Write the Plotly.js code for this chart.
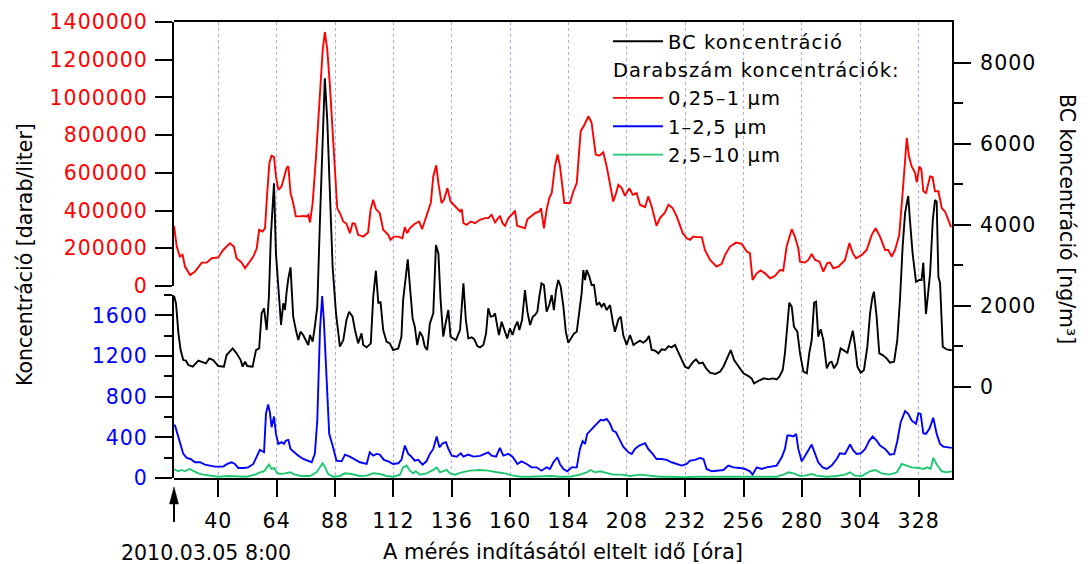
<!DOCTYPE html>
<html>
<head>
<meta charset="utf-8">
<script src="https://cdn.plot.ly/plotly-3.0.1.min.js"></script>
<style>
html,body{margin:0;padding:0;background:#ffffff;}
#chart{width:1088px;height:564px;}
.legendtext{letter-spacing:1.1px;}
.xtick text, .ytick text, .y2tick text, .y3tick text{letter-spacing:1px;}
</style>
</head>
<body>
<div id="chart"></div>
<script>
// ---------- tick labels / axis values ----------
const xTickVals = [40, 64, 88, 112, 136, 160, 184, 208, 232, 256, 280, 304, 328];
const redTickVals = [0, 200000, 400000, 600000, 800000, 1000000, 1200000, 1400000];
const blueTickVals = [0, 400, 800, 1200, 1600];
const blueMinorVals = [200, 600, 1000, 1400, 1800];
const bcTickVals = [0, 2000, 4000, 6000, 8000];
const bcMinorVals = [1000, 3000, 5000, 7000];

// ---------- series: BC (black, right axis, ng/m3) ----------
const bcHours = [21.8,22.6,23.6,24.5,25.6,26.7,27.7,29.5,31.8,33.8,
 34.9,36.3,37.9,40,42.3,43.4,44.8,45.9,47.5,49.2,
 50,51,51.9,54.1,55.5,56.8,57.8,58.8,59.9,60.8,
 61.6,62.9,63.7,64.7,65.8,66.7,67.4,68.1,68.8,69.7,
 70.8,71.9,72.9,73.8,74.9,76.3,77,77.7,78.8,79.7,
 80.7,81.8,82.9,83.8,84.8,85.9,87,88.4,90,91.4,
 92.7,93.8,95.2,96.2,97.5,98.9,99.6,101,102.7,103.7,
 104.8,105.8,106.7,107.8,109.2,110.5,111.9,114,115.3,116,
 117.1,117.9,118.8,119.9,120.8,121.8,122.9,124,124.9,125.9,
 127,128.4,129.5,130.5,131.4,132.5,133.6,134.6,135.5,136.6,
 137.7,139.4,140.8,141.8,142.8,144.2,145.3,146.5,147.6,149,
 150.1,151,152,153.1,153.8,154.5,155.4,156.5,157.5,158.8,
 159.9,161,162,163,163.8,164.9,166.1,167.1,168.2,169.3,
 170.2,171.2,172,172.9,173.9,175,176.1,177.1,178,178.9,
 179.8,180.8,181.9,182.9,183.9,185.3,186.3,187.4,188.4,189.4,
 190.1,190.8,191.5,192.6,193.5,194.5,195.6,196.7,197.6,198.6,
 199.7,201.1,202.2,203.1,204.5,205.5,206.5,207.9,209.3,210.7,
 212,213.4,214.8,216.1,217.1,218.2,219.6,221,222.3,223.7,
 225.1,226.4,227.8,229.2,230.5,231.9,233.3,235.3,236.4,237.8,
 239.2,240.6,242.2,244.3,246.3,247.7,249.1,250.7,252.1,253.9,
 255.9,258,259.3,260.3,261.4,262.8,264.4,266.2,268,269.6,
 270.7,272.1,273,274,274.8,275.8,276.7,278.1,279.2,280.6,
 282,283,284,285,285.8,286.7,287.7,288.8,290.2,291.3,
 292.2,293.2,294.5,295.9,297.3,298.7,299.8,300.9,301.8,302.8,
 304.2,305.5,306.9,308,309,309.6,310.7,311.8,313.2,314.8,
 316.2,317.9,319.2,320.3,321.4,322.4,323.1,323.7,324.4,325.5,
 326.9,328.3,329.2,329.9,331,332,332.7,333.8,334.7,335.4,
 336.1,336.8,337.9,339.5,341.6];
const bcValues = [2239,2058,1317,905,658,642,535,494,642,593,
 576,700,658,510,494,782,864,946,823,658,
 494,617,510,494,905,946,1811,1934,1399,2222,
 3704,5020,3292,2469,1523,2058,1893,2346,2675,2946,
 1728,1399,1152,1358,1276,1111,1029,1276,1111,1481,
 1975,4115,5926,7613,6584,4773,2963,1811,988,1152,
 1646,1852,1728,1399,1070,1317,1029,971,1070,2222,
 2864,2058,2099,1399,1111,1070,905,946,1235,2140,
 2798,3144,2469,1687,1481,1029,1358,1235,988,905,
 1564,1811,3498,3292,2140,1235,1605,1893,1235,1193,
 1152,1399,2551,1646,1193,1218,1169,1004,971,1029,
 1317,1934,1728,1745,1811,1564,1276,1605,1399,1193,
 1440,1276,1481,1605,1399,1646,2387,1852,1523,1728,
 1770,1852,2222,2551,2510,1852,2016,2263,1893,2387,
 2634,2469,1975,1358,1086,1235,1317,1358,1811,2304,
 2881,2634,2881,2716,2510,2510,2016,2074,1975,2058,
 1893,2016,1605,1358,1662,1728,1276,1029,1276,1029,
 1086,1136,1086,1152,1251,905,889,823,922,905,
 1004,971,1029,864,675,494,453,617,675,576,
 593,453,346,313,370,494,700,905,658,494,
 329,263,206,82,123,165,206,181,206,181,
 247,412,823,1646,2074,1975,1481,1358,823,370,
 329,823,1152,2074,2099,1235,1416,1152,453,593,
 617,453,576,946,889,839,1111,1383,1029,494,
 346,412,988,1811,2222,2346,1728,823,782,700,
 593,617,1152,2140,3457,4280,4527,4708,4115,3292,
 2592,2634,2634,3062,1794,2304,2798,4115,4609,4568,
 2716,2551,988,920,900];

// ---------- series: 0,25–1 µm (red, upper left axis, darab/liter) ----------
const redHours = [21.8,22.9,24.2,25.3,26.3,28.4,30.4,33.2,35.2,37.3,
 40,42,44.8,46.4,47.5,49.6,51,53,54.4,55.8,
 56.8,58.2,59.2,60.1,61,61.9,62.9,63.7,64.7,66,
 67.1,68.1,68.8,69.7,70.8,71.9,73.6,74.9,76.3,77,
 77.7,78.8,80.1,81.5,82.9,83.8,84.8,85.9,87,87.9,
 88.9,90,91.4,92.7,94.1,95.2,96.2,97.5,99.6,101.6,
 102.6,103.7,104.8,106.4,107.8,109.9,110.8,112.2,114,115.7,
 116.7,117.7,118.8,120.8,122.6,123.8,125.6,127.4,128.4,129.6,
 130.5,131.8,132.8,134.2,135.5,137.3,139.4,140.1,140.8,142.1,
 143.8,145.5,147.6,149.7,151,152.4,153.8,155.8,156.9,157.9,
 159.3,161,162,162.9,164.7,166.1,167.1,168.8,170.2,172,
 172.7,173.9,175,176.1,177.1,178.4,179.5,180.5,181.6,182.3,
 184.6,186,187.4,189,190.4,192.2,193.5,195.2,196.7,198.3,
 199.7,201.1,202.4,203.5,204.5,205.9,207.2,209,210.4,212,
 213.4,215.5,216.8,218.2,220.2,221.6,223.7,225.1,226.8,228.5,
 231,232.6,234,235.3,236.7,238.8,240.1,242.2,244.9,247,
 248.4,250.4,252.9,255.2,257.3,258.6,259.7,261.4,263,264.8,
 266.9,268.9,271,272.3,273.7,275.8,277.1,278.5,279.2,281.3,
 282.6,284,285.4,287.2,288.8,290.4,291.5,292.9,295,297.7,
 299.5,300.9,302.2,304.6,306.6,308.7,310.3,312.1,314.2,315.5,
 316.9,318.3,320,321.4,322.4,323.1,324,325.1,326.5,327.2,
 328.3,329.1,329.9,331,332.7,333.7,334.7,336.1,337.5,338.8,
 340.2,341.3];
const redValues = [319000,209000,156000,165000,103000,58000,76000,124000,124000,147000,
 152000,191000,227000,209000,147000,124000,94000,129000,156000,200000,
 298000,289000,306000,493000,652000,691000,684000,581000,510000,528000,
 581000,626000,635000,493000,440000,369000,369000,372000,369000,377000,
 337000,440000,670000,971000,1246000,1347000,1255000,1060000,829000,599000,
 413000,386000,342000,330000,280000,333000,330000,271000,262000,284000,
 404000,457000,408000,386000,298000,271000,245000,262000,262000,253000,
 312000,280000,307000,330000,342000,301000,377000,443000,581000,640000,
 546000,440000,457000,519000,448000,422000,395000,408000,333000,324000,
 342000,333000,351000,360000,360000,377000,337000,372000,333000,319000,
 360000,383000,400000,319000,312000,306000,354000,369000,386000,395000,
 413000,306000,404000,466000,493000,634000,697000,634000,493000,440000,
 440000,501000,546000,821000,851000,900000,865000,697000,691000,709000,
 634000,528000,448000,489000,537000,519000,478000,519000,484000,493000,
 431000,418000,475000,422000,319000,360000,390000,431000,413000,369000,
 280000,253000,245000,262000,259000,259000,191000,138000,103000,117000,
 165000,209000,230000,223000,183000,174000,32000,67000,82000,67000,
 41000,53000,85000,82000,209000,301000,262000,200000,129000,124000,
 138000,170000,138000,129000,76000,121000,124000,94000,103000,138000,
 227000,174000,147000,165000,191000,271000,306000,262000,191000,191000,
 156000,191000,271000,493000,679000,785000,688000,634000,602000,549000,
 634000,617000,502000,493000,581000,578000,502000,502000,413000,395000,
 351000,312000];

// ---------- series: 1–2,5 µm (blue, lower left axis) ----------
const blueHours = [21.8,22.2,23.2,24.2,25.6,27,28.6,30.4,32.5,34.5,36.6,
 38.6,40.7,42,43.7,45.5,46.8,48.2,50.3,52.3,54.4,
 56,57.1,58.8,59.6,60.5,61.2,61.9,62.9,63.7,64.7,
 66,67,67.8,68.8,69.7,71.1,72.9,74.9,77,78.4,
 79.7,80.7,81.8,82.7,83.4,84.5,85.6,87,88.6,90.7,
 92.1,94.1,96.2,98.2,101,102.3,103.7,105.1,106.4,108.1,
 109.9,111.9,114,115.3,116.7,118.1,119,120.8,122.2,124,
 125.6,127,128.4,129.8,130.9,132.3,133.6,134.6,136,138,
 139.7,140.8,142.8,144.9,147.6,149.7,151,152.4,154.2,155.8,
 157.2,159.3,161,163,164.7,166.8,168.8,170.9,172.9,175,
 176.4,177.8,179.4,180.5,181.9,183.5,185.3,187.4,188.7,189.8,
 190.8,191.7,193.5,195.6,197.2,198.3,199.7,201.1,202.2,203.5,
 204.9,206.5,208.6,210,211.3,213.1,215.5,216.8,218.6,220.2,
 222.3,224.4,226.4,228.5,230.5,232.6,234,236,238.1,239.5,
 240.8,242.9,245,247.7,249.7,251.8,254.5,256.6,258.6,259.7,
 261.4,263.4,265.5,267.6,269.6,271.7,273,274,275.1,276.5,
 277.6,278.5,279.9,281.3,282.6,284,285.4,286.7,288.5,290.2,
 292.2,294.3,295.6,297.7,299.8,301.1,302.5,304.2,306,307.7,
 309.1,310.7,312.1,314.2,316.2,317.9,319.2,320.6,322.4,323.7,
 325.1,326.9,327.9,328.8,329.9,331,332.4,334,335.4,336.8,
 338.1,340.2,341.6];
const blueValues = [520,516,434,352,237,197,187,155,155,132,122,
 112,112,112,138,155,138,99,99,105,138,
 220,276,253,631,723,648,500,605,434,335,
 352,335,368,375,286,253,220,187,164,155,
 237,566,1453,1789,1552,960,434,319,171,164,
 230,210,178,155,138,253,220,237,230,178,
 164,138,145,178,319,237,220,171,178,132,
 164,237,286,408,302,342,352,286,220,210,
 243,210,230,210,217,237,253,220,210,296,
 220,237,210,138,164,138,105,105,72,105,
 89,155,204,138,89,66,105,105,286,362,
 335,434,483,533,572,566,582,533,467,450,
 385,309,253,237,286,319,342,286,237,187,
 187,178,155,138,122,138,171,178,197,187,
 89,66,72,79,122,105,99,89,66,33,
 105,89,105,112,122,204,286,418,418,408,
 434,286,164,220,270,329,237,155,105,89,
 122,187,243,237,329,270,237,243,286,368,
 408,368,319,286,230,237,362,549,658,631,
 566,533,638,631,441,434,483,592,434,335,
 309,302,296];

// ---------- series: 2,5–10 µm (green, lower left axis) ----------
const greenHours = [21.8,22.2,23.6,24.9,26.3,28.1,29.7,31.8,33.8,36.6,
 40,44.1,47.5,51.6,55.1,57.1,58.8,59.9,60.8,61.9,
 62.9,64,65.3,67.4,69.5,71.5,74.2,77.7,80.4,81.8,
 82.9,83.8,85.2,87.3,90,92.1,94.8,98.2,101,103.7,
 106.4,109.2,111.9,114.7,116,117.4,118.8,120.1,121.2,122.9,
 125.6,128.4,129.8,131.2,132.5,133.9,135.3,137.3,140.1,143.5,
 147.6,151,154.5,157.9,161.3,164.7,168.2,172.3,176.4,180.5,
 184.6,188.7,191.5,193.1,194.9,197,199.7,202.4,205.9,209.3,
 213.4,217.5,221.6,225.7,231.2,236.7,239.5,247.7,258.6,269.6,
 273,274.4,276.5,279.2,281.3,284,286.1,290.2,294.3,297.7,
 299.8,301.8,304.6,307.9,310.1,312.8,316.2,319,321,322.8,
 325.1,327.9,329.9,331.6,332.9,334,335.7,337.5,339.5,341.6];
const greenValues = [85,79,66,79,66,89,72,46,33,23,
 13,20,20,13,33,56,66,105,132,89,
 99,56,39,46,56,33,20,20,56,105,
 145,112,39,13,20,46,39,20,23,46,
 39,20,13,33,105,122,72,46,66,33,
 46,79,105,56,66,79,46,33,56,72,
 79,72,56,46,23,13,13,20,20,13,
 13,33,56,79,56,66,46,33,33,20,
 33,20,13,13,7,13,13,7,7,13,
 39,56,46,20,23,39,23,13,20,33,
 56,23,20,66,79,46,33,56,138,122,
 105,99,89,105,89,197,122,66,56,66];

const FONT = 'DejaVu Sans';
const FS = 20.5;
const xRange = [21.78, 341.7];

const lineW = 1.9;
const traces = [
  {type:'scatter', mode:'lines', x:bcHours, y:bcValues, xaxis:'x', yaxis:'y3',
   name:'BC koncentráció', legendgroup:'bc', line:{color:'#000000', width:lineW}},
  {type:'scatter', mode:'lines', x:redHours, y:redValues, xaxis:'x2', yaxis:'y',
   name:'0,25–1 µm', legendgroup:'darab',
   legendgrouptitle:{text:'Darabszám koncentrációk:', font:{family:FONT, size:19.5, color:'#000'}},
   line:{color:'#ff0000', width:lineW}},
  {type:'scatter', mode:'lines', x:blueHours, y:blueValues, xaxis:'x2', yaxis:'y2',
   name:'1–2,5 µm', legendgroup:'darab', line:{color:'#0000ff', width:lineW}},
  {type:'scatter', mode:'lines', x:greenHours, y:greenValues, xaxis:'x2', yaxis:'y2',
   name:'2,5–10 µm', legendgroup:'darab', line:{color:'#1ec86e', width:lineW}}
];

const axisCommon = {
  showline:true, linecolor:'#000', linewidth:2,
  ticks:'outside', ticklen:17, tickwidth:2, tickcolor:'#000',
  showgrid:false, zeroline:false, fixedrange:true
};

const layout = {
  width:1088, height:564,
  margin:{l:174, r:136, t:22, b:86, pad:0},
  paper_bgcolor:'#ffffff', plot_bgcolor:'rgba(0,0,0,0)',
  font:{family:FONT, size:FS, color:'#000'},
  showlegend:true,
  legend:{x:0.5578, y:1, xanchor:'left', yanchor:'top', bgcolor:'rgba(0,0,0,0)',
    borderwidth:0, font:{family:FONT, size:19.5, color:'#000'},
    tracegroupgap:0, itemwidth:50, traceorder:'grouped'},
  xaxis:Object.assign({}, axisCommon, {
    domain:[0,1], anchor:'y3', range:xRange,
    tickmode:'array', tickvals:xTickVals, mirror:true,
    showgrid:true, gridcolor:'#aaaaf2', gridwidth:1, griddash:'dot',
    ticklabelstandoff:6,
    title:{text:'A mérés indításától eltelt idő [óra]', standoff:13, font:{family:FONT, size:21}}
  }),
  xaxis2:{matches:'x', anchor:'y', range:xRange, visible:false, fixedrange:true},
  yaxis:Object.assign({}, axisCommon, {
    domain:[0.4211,1], anchor:'x', range:[0,1400000],
    tickmode:'array', tickvals:redTickVals, tickformat:'d',
    tickfont:{family:FONT, size:FS, color:'#ff0000'}, ticklabelstandoff:3
  }),
  yaxis2:Object.assign({}, axisCommon, {
    domain:[0,0.4013], anchor:'x', range:[0,1800],
    tickmode:'array', tickvals:blueTickVals, tickformat:'d',
    tickfont:{family:FONT, size:FS, color:'#0000ff'}, ticklabelstandoff:3,
    minor:{tickmode:'array', tickvals:blueMinorVals, ticks:'outside', ticklen:8, tickwidth:2, tickcolor:'#000'}
  }),
  yaxis3:Object.assign({}, axisCommon, {
    domain:[0,1], anchor:'x', side:'right', range:[-2254, 9004],
    tickmode:'array', tickvals:bcTickVals, tickformat:'d',
    tickfont:{family:FONT, size:FS, color:'#000'}, ticklabelstandoff:5,
    minor:{tickmode:'array', tickvals:bcMinorVals, ticks:'outside', ticklen:9, tickwidth:2, tickcolor:'#000'}
  }),
  shapes:[
    // white panel behind the legend: hides the dotted gridlines only
    {type:'rect', xref:'paper', yref:'paper', x0:0.5476, x1:0.937, y0:0.6864, y1:0.997,
     fillcolor:'#ffffff', line:{width:0}, layer:'between'},
    {type:'line', xref:'paper', yref:'paper', x0:0, x1:0, y0:-0.0965, y1:-0.055,
     line:{color:'#000', width:2}},
    {type:'path', xref:'paper', yref:'paper',
     path:'M 0 -0.0197 L -0.00578 -0.0570 L 0.00578 -0.0570 Z',
     fillcolor:'#000', line:{color:'#000', width:0.5}}
  ],
  annotations:[
    {text:'Koncentráció [darab/liter]', textangle:-90, xref:'paper', yref:'paper',
     x:-0.1915, y:0.489, xanchor:'center', yanchor:'middle', showarrow:false,
     font:{family:FONT, size:FS, color:'#000'}},
    {text:'BC koncentráció [ng/m³]', textangle:90, xref:'paper', yref:'paper',
     x:1.1478, y:0.568, xanchor:'center', yanchor:'middle', showarrow:false,
     font:{family:FONT, size:FS, color:'#000'}},
    {text:'2010.03.05 8:00', xref:'paper', yref:'paper', x:0.0411, y:-0.1645,
     xanchor:'center', yanchor:'middle', showarrow:false,
     font:{family:FONT, size:FS, color:'#000'}}
  ]
};

Plotly.newPlot('chart', traces, layout, {staticPlot:true, displayModeBar:false});
</script>
</body>
</html>
